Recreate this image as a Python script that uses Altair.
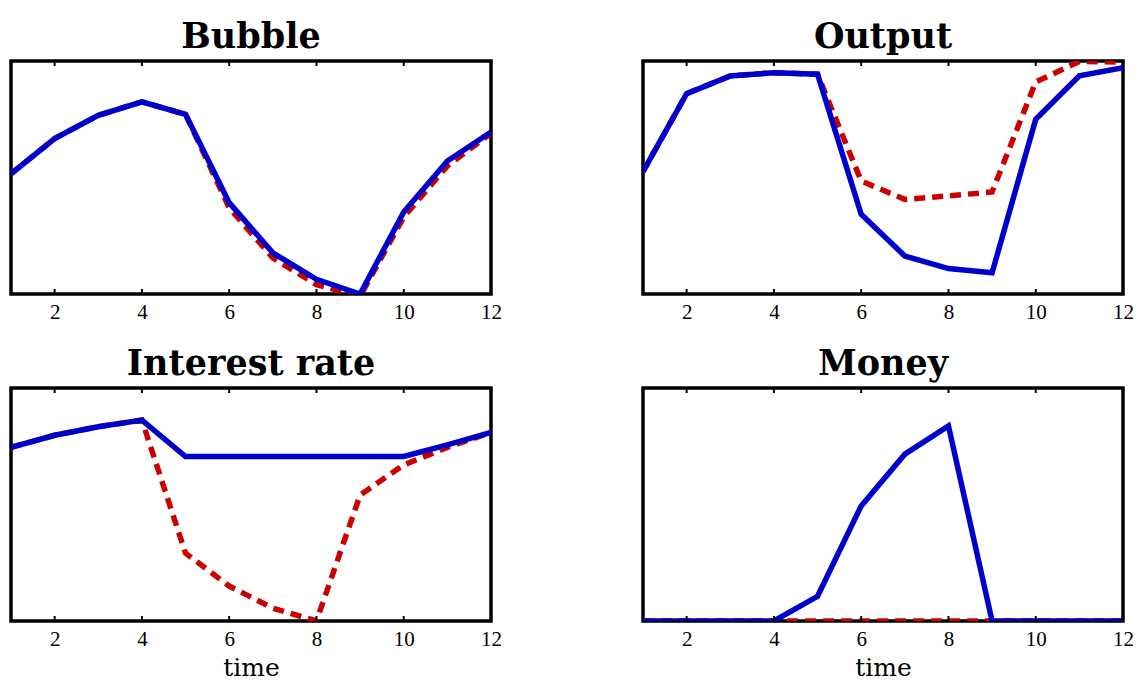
import altair as alt
import pandas as pd

t = list(range(1, 13))
tick_values = [2, 4, 6, 8, 10, 12]

bubble_blue = [0.516, 0.667, 0.767, 0.825, 0.771, 0.392, 0.177, 0.063, 0.0, 0.352, 0.571, 0.695]
bubble_red = [0.516, 0.667, 0.767, 0.825, 0.771, 0.37, 0.155, 0.04, -0.01, 0.33, 0.55, 0.69]

output_blue = [0.525, 0.860, 0.936, 0.950, 0.943, 0.342, 0.163, 0.109, 0.091, 0.750, 0.936, 0.971]
output_red = [0.525, 0.860, 0.936, 0.950, 0.943, 0.485, 0.406, 0.421, 0.438, 0.910, 0.998, 0.995]

rate_blue = [0.745, 0.797, 0.834, 0.862, 0.706, 0.706, 0.706, 0.706, 0.706, 0.706, 0.756, 0.809]
rate_red = [0.745, 0.797, 0.834, 0.862, 0.291, 0.150, 0.055, 0.0, 0.540, 0.670, 0.745, 0.809]

money_blue = [0.0, 0.0, 0.0, 0.0, 0.106, 0.494, 0.716, 0.837, 0.0, 0.0, 0.0, 0.0]
money_red = [0.0, 0.0, 0.0, 0.0, 0.0, 0.0, 0.0, 0.0, 0.0, 0.0, 0.0, 0.0]

W, H = 480, 233
BLUE = "#0000cc"
RED = "#cc0000"


def panel(title, blue, red, show_time):
    df = pd.DataFrame({"t": t, "blue": blue, "red": red})
    tdf = pd.DataFrame({"t": tick_values})
    axis_kw = dict(values=tick_values, grid=False, domain=False, ticks=False, tickSize=0,
                   labelFont="Liberation Serif", labelFontSize=21, labelColor="black",
                   labelPadding=7, labelFlush=False)
    if show_time:
        axis_kw.update(title="time", titleFont="DejaVu Serif", titleFontSize=25,
                       titleFontWeight="normal", titleColor="black", titlePadding=6)
    else:
        axis_kw.update(title="")
    x = alt.X("t:Q", scale=alt.Scale(domain=[1, 12], nice=False, zero=False),
              axis=alt.Axis(**axis_kw))
    ysc = alt.Scale(domain=[0, 1], nice=False, zero=False)
    red_line = alt.Chart(df).mark_line(color=RED, strokeWidth=5.5, strokeDash=[11, 7],
                                       clip=True).encode(x=x, y=alt.Y("red:Q", scale=ysc, axis=None))
    blue_line = alt.Chart(df).mark_line(color=BLUE, strokeWidth=5.5, clip=True).encode(
        x=x, y=alt.Y("blue:Q", scale=ysc, axis=None))
    top_ticks = alt.Chart(tdf).mark_rule(color="black", strokeWidth=2).encode(
        x=x, y=alt.value(0), y2=alt.value(5))
    bot_ticks = alt.Chart(tdf).mark_rule(color="black", strokeWidth=2).encode(
        x=x, y=alt.value(H - 5), y2=alt.value(H))
    return alt.layer(red_line, blue_line, top_ticks, bot_ticks).properties(
        width=W, height=H,
        title=alt.TitleParams(title, font="DejaVu Serif", fontSize=35, fontWeight="bold",
                              color="black", baseline="bottom", offset=-30, anchor="middle"))


chart = alt.concat(
    panel("Bubble", bubble_blue, bubble_red, False),
    panel("Output", output_blue, output_red, False),
    panel("Interest rate", rate_blue, rate_red, True),
    panel("Money", money_blue, money_red, True),
    columns=2, spacing={"row": 94, "column": 152}, bounds="flush",
).properties(
    padding={"left": 9, "top": 18, "right": 0, "bottom": 0}
).configure(background="white").configure_view(stroke="black", strokeWidth=3.5)

chart.save("out.html", embed_options={"renderer": "svg", "actions": False})
